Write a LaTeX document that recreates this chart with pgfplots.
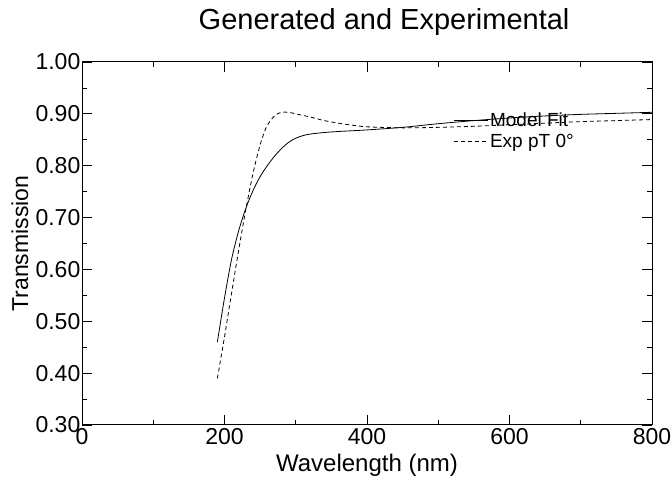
\documentclass[border=0pt]{standalone}
\usepackage{fontspec}
\setmainfont{Liberation Sans}
\usepackage{pgfplots}
\pgfplotsset{compat=1.18}
\begin{document}
\begin{tikzpicture}
\begin{axis}[
  scale only axis,
  width=570bp, height=363bp,
  xmin=0, xmax=800, ymin=0.30, ymax=1.00,
  xtick={0,200,400,600,800},
  minor xtick={100,300,500,700},
  ytick={0.3,0.4,0.5,0.6,0.7,0.8,0.9,1.0},
  minor ytick={0.35,0.45,0.55,0.65,0.75,0.85,0.95},
  tick align=inside,
  major tick length=10bp, minor tick length=5bp,
  every tick/.style={black, line width=0.8bp},
  axis line style={line width=1bp},
  /pgf/number format/assume math mode=true,
  yticklabel style={/pgf/number format/fixed, /pgf/number format/fixed zerofill, /pgf/number format/precision=2},
  yticklabel style={font=\fontsize{23bp}{27bp}\selectfont, inner xsep=1.5bp},
  xticklabel style={font=\fontsize{23bp}{27bp}\selectfont, inner ysep=3bp},
  scaled y ticks=false,
  title={Generated and Experimental},
  title style={font=\fontsize{29bp}{34bp}\selectfont, at={(axis description cs:0.53,1.072)}, anchor=base},
  xlabel={Wavelength (nm)},
  xlabel style={font=\fontsize{24bp}{28bp}\selectfont, at={(axis description cs:0.5,-0.110)}, anchor=center},
  ylabel={Transmission},
  ylabel style={font=\fontsize{23bp}{27bp}\selectfont, at={(axis description cs:-0.109,0.5)}, anchor=center},
  legend style={draw=none, fill=none, at={(axis description cs:0.651,0.865)}, anchor=north west,
     font=\fontsize{19bp}{21bp}\selectfont, row sep=2bp, inner sep=0pt},
  legend cell align=left,
  legend image code/.code={\draw[#1] (0bp,0bp) -- (34bp,0bp);},
]
\addplot[black, line width=0.8bp, smooth] coordinates {
(190,0.460) (200,0.545) (210,0.620) (220,0.675) (230,0.718) (240,0.752)
(250,0.779) (260,0.800) (270,0.818) (280,0.833) (290,0.845) (300,0.853)
(310,0.858) (320,0.861) (340,0.864) (360,0.866) (400,0.869) (450,0.874)
(500,0.881) (550,0.887) (600,0.892) (650,0.896) (700,0.899) (750,0.901) (800,0.903)
};
\addlegendentry{Model Fit}
\addplot[black, line width=0.8bp, dash pattern=on 4bp off 3bp, smooth] coordinates {
(190,0.390) (200,0.470) (210,0.555) (220,0.638) (230,0.716) (240,0.785)
(250,0.840) (258,0.872) (265,0.888) (272,0.898) (280,0.903) (290,0.903)
(300,0.900) (320,0.894) (340,0.887) (360,0.882) (380,0.878) (400,0.875)
(450,0.873) (500,0.874) (550,0.876) (600,0.879) (650,0.882) (700,0.885)
(750,0.887) (800,0.889)
};
\addlegendentry{Exp pT 0°}
\coordinate (bl) at (rel axis cs:0,0);
\coordinate (tr) at (rel axis cs:1,1);
\end{axis}
\pgfresetboundingbox
\path ([shift={(-82bp,-62bp)}]bl) rectangle ([shift={(20bp,62bp)}]tr);
\end{tikzpicture}
\end{document}
